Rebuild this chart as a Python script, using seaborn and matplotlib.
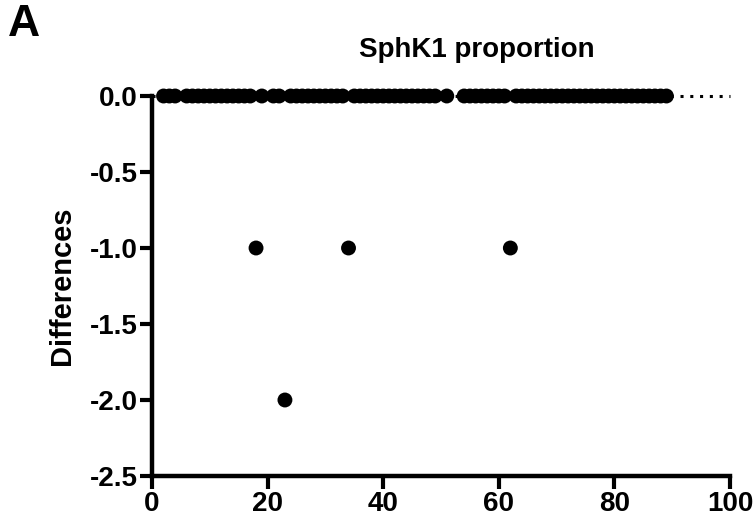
import numpy as np
import pandas as pd
import seaborn as sns
from matplotlib import pyplot as plt
from matplotlib.ticker import FuncFormatter

sns.set_style('ticks')
plt.rcParams['font.family'] = ['Liberation Sans', 'DejaVu Sans']
plt.rcParams['font.weight'] = 'bold'
plt.rcParams['text.color'] = 'black'
plt.rcParams['xtick.color'] = 'black'
plt.rcParams['ytick.color'] = 'black'

# Subjects with zero difference (x positions along the top row)
zero_x = [2, 3, 4, 6, 7, 8, 9, 10, 11, 12, 13, 14, 15, 16, 17, 19, 21, 22,
          24, 25, 26, 27, 28, 29, 30, 31, 32, 33, 35, 36, 37, 38, 39, 40, 41,
          42, 43, 44, 45, 46, 47, 48, 49, 51, 54, 55, 56, 57, 58, 59, 60, 61,
          63, 64, 65, 66, 67, 68, 69, 70, 71, 72, 73, 74, 75, 76, 77, 78, 79,
          80, 81, 82, 83, 84, 85, 86, 87, 88, 89]
# Subjects with a non-zero difference
off_x = [18, 23, 34, 62]
off_y = [-1.0, -2.0, -1.0, -1.0]

x_ticks = [0, 20, 40, 60, 80, 100]
y_ticks = [0.0, -0.5, -1.0, -1.5, -2.0, -2.5]

df = pd.DataFrame({'x': zero_x + off_x,
                   'diff': [0.0] * len(zero_x) + off_y})

fig = plt.figure(figsize=(7.53, 5.28), dpi=100)
ax = fig.add_axes([152 / 753, 1 - 476 / 528, 578 / 753, 380 / 528])

# dotted zero line
ax.axhline(0, color='black', linestyle=(0, (1, 2.2)), linewidth=2.2,
           zorder=1, clip_on=False)
sns.scatterplot(data=df, x='x', y='diff', color='black', s=115,
                edgecolor='none', ax=ax, zorder=3, clip_on=False)

ax.set_xlim(0, 100)
ax.set_ylim(-2.5, 0)
ax.set_xticks(x_ticks)
ax.set_yticks(y_ticks)
ax.yaxis.set_major_formatter(FuncFormatter(lambda v, p: ('%.1f' % v).replace('\u2212', '-')))
ax.tick_params(axis='both', length=9, width=3, labelsize=20, pad=1.5,
               color='black', labelcolor='black')
for lab in ax.get_xticklabels() + ax.get_yticklabels():
    lab.set_fontweight('bold')

sns.despine(ax=ax)
for side in ['left', 'bottom']:
    ax.spines[side].set_linewidth(3.2)
    ax.spines[side].set_color('black')

ax.set_xlabel('')
ax.set_ylabel('Differences', fontsize=21, fontweight='bold', color='black')
ax.yaxis.set_label_coords(-76 / 578, 0.5)

fig.text(477 / 753, 1 - 50 / 528, 'SphK1 proportion', ha='center', va='center',
         fontsize=20, fontweight='bold')
fig.text(8 / 753, 1 - 24 / 528, 'A', ha='left', va='center',
         fontsize=32, fontweight='bold')

plt.savefig('out.png', dpi=100)
